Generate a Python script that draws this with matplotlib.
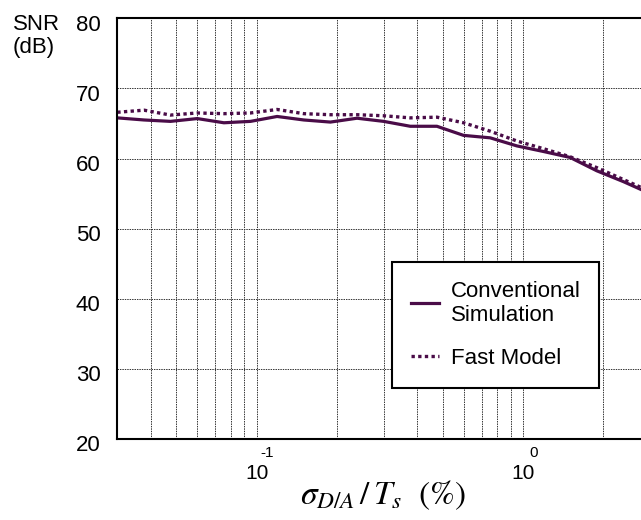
import numpy as np
import matplotlib
matplotlib.use("Agg")
import matplotlib.pyplot as plt
import matplotlib.transforms as mtransforms
from matplotlib.ticker import LogLocator, NullFormatter, FixedLocator

plt.rcParams['font.family'] = ['Liberation Sans', 'DejaVu Sans']
plt.rcParams['mathtext.fontset'] = 'stix'

# data: sigma_DA/Ts (%) on log grid, SNR in dB
sigma = [0.03, 0.0378, 0.0475, 0.0599, 0.0754, 0.0949, 0.1194, 0.1504, 0.1893,
         0.2383, 0.3, 0.3777, 0.4755, 0.5986, 0.7536, 0.9487, 1.1943, 1.5036,
         1.8929, 2.383, 3.0]
snr_conv = [65.8, 65.5, 65.3, 65.7, 65.1, 65.3, 66.0, 65.5, 65.2, 65.75, 65.3,
            64.6, 64.6, 63.3, 62.95, 61.8, 61.0, 60.15, 58.25, 56.7, 55.0]
snr_fast = [66.6, 66.9, 66.2, 66.5, 66.4, 66.5, 67.0, 66.4, 66.25, 66.25, 66.1,
            65.8, 65.9, 65.1, 63.9, 62.5, 61.4, 60.25, 58.7, 57.0, 55.3]
labels = ['Conventional\nSimulation', 'Fast Model']
yticks = [20, 30, 40, 50, 60, 70, 80]
xmajor = [0.1, 1.0]
xexp = ['-1', '0']

color = '#4a0c48'

fig = plt.figure(figsize=(6.41, 5.20), dpi=100)
L, R, T, B = 117.3, 650.0, 18.4, 438.7
ax = fig.add_axes([L / 641, 1 - B / 520, (R - L) / 641, (B - T) / 520])

ax.plot(sigma, snr_conv, color=color, lw=2.3, solid_joinstyle='round', label=labels[0])
ax.plot(sigma, snr_fast, color=color, lw=2.4, linestyle=(0, (1, 1)), label=labels[1])

ax.set_xscale('log')
ax.set_xlim(0.03, 3.0)
ax.set_ylim(20, 80)
ax.set_yticks(yticks)
ax.xaxis.set_major_locator(FixedLocator(xmajor))
ax.xaxis.set_minor_locator(LogLocator(base=10, subs=np.arange(2, 10)))
ax.xaxis.set_minor_formatter(NullFormatter())
ax.set_xticklabels(['10', '10'])

ax.grid(True, which='both', axis='x', color='#333333', lw=0.7, linestyle=(0, (1.5, 1)))
ax.grid(True, which='major', axis='y', color='#333333', lw=0.7, linestyle=(0, (1.5, 1)))
ax.set_axisbelow(True)
ax.tick_params(which='both', length=0)
ax.tick_params(axis='y', labelsize=16, pad=12)
ax.tick_params(axis='x', labelsize=15, pad=18)
for sp in ax.spines.values():
    sp.set_linewidth(1.5)
    sp.set_color('black')

off = mtransforms.ScaledTranslation(0, -4.5 / 100, fig.dpi_scale_trans)
for lab in ax.get_yticklabels():
    lab.set_transform(lab.get_transform() + off)

# exponents of x tick labels
for xv, e in zip(xmajor, xexp):
    ax.annotate(e, xy=(xv, 0), xycoords=('data', 'axes fraction'),
                xytext=(11, -14), textcoords='offset pixels',
                ha='center', va='center', fontsize=11)

ax.set_xlabel(r'$\sigma_{D/A}\,/\,T_s\ \ (\%)$', fontsize=24)
ax.xaxis.set_label_coords((383 - L) / (R - L), -(478 - B) / (B - T))

fig.text(13 / 641, 1 - 14 / 520, 'SNR\n(dB)', ha='left', va='top', fontsize=16,
         linespacing=1.15)

leg = ax.legend(loc='upper left', bbox_to_anchor=(391.7 / 641, 1 - 261.7 / 520),
                bbox_transform=fig.transFigure, fontsize=16, fancybox=False,
                edgecolor='black', framealpha=1, borderaxespad=0,
                handlelength=1.3, handletextpad=0.5, borderpad=0.85,
                labelspacing=1.0)
leg.get_frame().set_linewidth(1.5)

fig.savefig('out.png', dpi=100)
